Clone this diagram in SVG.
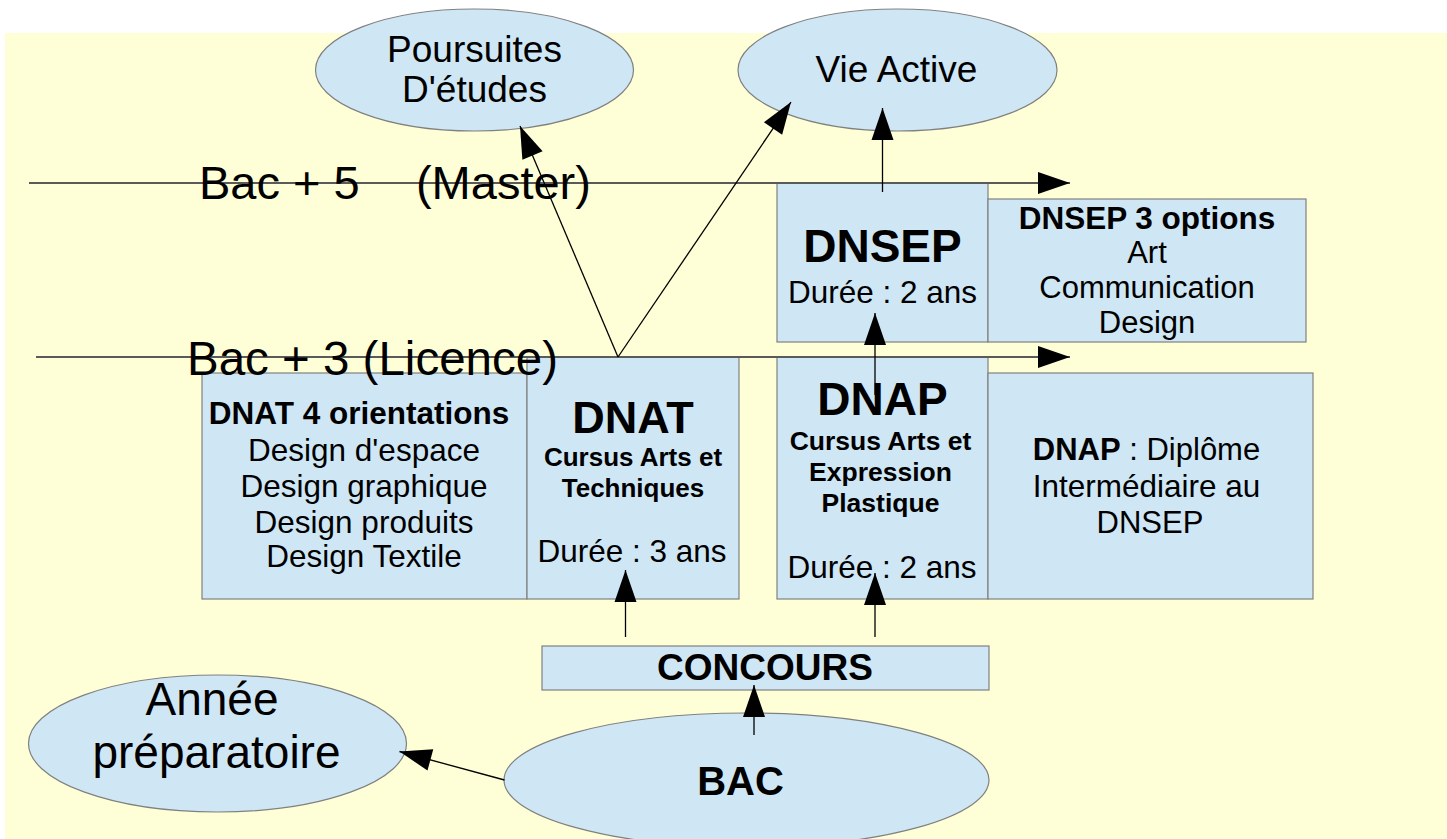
<svg xmlns="http://www.w3.org/2000/svg" width="1447" height="839" viewBox="0 0 1447 839">
<style>
  text { font-family: "Liberation Sans", Arial, sans-serif; fill: #000; }
  .shape { fill: #cfe7f5; stroke: #808080; stroke-width: 1.2; }
  .c { text-anchor: middle; }
  .b { font-weight: bold; }
  .conn { stroke: #000; stroke-width: 1.3; fill: none; marker-end: url(#arr); }
  .level { stroke: #5a5a5a; stroke-width: 2; fill: none; marker-end: url(#arr); }
</style>
<defs>
  <marker id="arr" markerUnits="userSpaceOnUse" markerWidth="32" markerHeight="22" refX="32" refY="11" orient="auto" overflow="visible">
    <path d="M0,0 L32,11 L0,22 z" fill="#000"/>
  </marker>
</defs>
<rect x="0" y="0" width="1447" height="839" fill="#ffffff"/>
<rect x="5" y="33" width="1442" height="806" fill="#ffffd7"/>

<g id="poursuites">
  <ellipse class="shape" cx="474.5" cy="70" rx="159" ry="61"/>
  <text class="c" x="474.5" y="62" font-size="37">Poursuites</text>
  <text class="c" x="474.5" y="102" font-size="37">D'études</text>
</g>
<g id="vie-active">
  <ellipse class="shape" cx="897.5" cy="70" rx="159.5" ry="61"/>
  <text class="c" x="896.5" y="82" font-size="37">Vie Active</text>
</g>
<g id="dnsep">
  <rect class="shape" x="777" y="183" width="211" height="159"/>
  <text class="c b" x="882.5" y="262" font-size="46">DNSEP</text>
  <text class="c" x="882.5" y="303" font-size="31.5">Durée : 2 ans</text>
</g>
<g id="dnsep-options">
  <rect class="shape" x="988" y="199" width="318" height="143"/>
  <text class="c b" x="1147" y="229" font-size="31.5">DNSEP 3 options</text>
  <text class="c" x="1147" y="263" font-size="31">Art</text>
  <text class="c" x="1147" y="298" font-size="31">Communication</text>
  <text class="c" x="1147" y="333" font-size="31">Design</text>
</g>
<g id="dnat-orientations">
  <rect class="shape" x="202" y="373" width="325" height="226"/>
  <text class="c b" x="359" y="424" font-size="31.5">DNAT 4 orientations</text>
  <text class="c" x="364" y="461" font-size="31.5">Design d'espace</text>
  <text class="c" x="364" y="497" font-size="31.5">Design graphique</text>
  <text class="c" x="364" y="533" font-size="31.5">Design produits</text>
  <text class="c" x="364" y="567" font-size="31.5">Design Textile</text>
</g>
<g id="dnat">
  <rect class="shape" x="527" y="357" width="212" height="242"/>
  <text class="c b" x="633" y="433" font-size="45">DNAT</text>
  <text class="c b" x="633" y="466" font-size="26">Cursus Arts et</text>
  <text class="c b" x="633" y="497" font-size="26">Techniques</text>
  <text class="c" x="632" y="562" font-size="31.5">Durée : 3 ans</text>
</g>
<g id="dnap">
  <rect class="shape" x="777" y="357" width="211" height="242"/>
  <text class="c b" x="882.5" y="415" font-size="46">DNAP</text>
  <text class="c b" x="880.5" y="450" font-size="26.5">Cursus Arts et</text>
  <text class="c b" x="880.5" y="481" font-size="26.5">Expression</text>
  <text class="c b" x="880.5" y="512" font-size="26.5">Plastique</text>
  <text class="c" x="882" y="578" font-size="31.5">Durée : 2 ans</text>
</g>
<g id="dnap-description">
  <rect class="shape" x="988" y="373" width="325" height="226"/>
  <text class="c" x="1146.5" y="460" font-size="31"><tspan font-weight="bold">DNAP</tspan> : Diplôme</text>
  <text class="c" x="1146.5" y="497" font-size="31.5">Intermédiaire au</text>
  <text class="c" x="1150" y="533" font-size="31">DNSEP</text>
</g>
<g id="concours">
  <rect class="shape" x="542" y="646" width="447" height="44"/>
  <text class="c b" x="765" y="680" font-size="37">CONCOURS</text>
</g>
<g id="bac">
  <ellipse class="shape" cx="746.5" cy="780" rx="242.5" ry="67"/>
  <text class="c b" x="740.5" y="795" font-size="40">BAC</text>
</g>
<g id="annee-preparatoire">
  <ellipse class="shape" cx="217.5" cy="743.5" rx="189" ry="68.5"/>
  <text class="c" x="212" y="715" font-size="46">Année</text>
  <text class="c" x="216.5" y="768" font-size="46">préparatoire</text>
</g>

<g id="connectors">
  <line class="level" x1="29" y1="183" x2="1070" y2="183"/>
  <line class="level" x1="36" y1="357" x2="1070" y2="357"/>
  <line class="conn" x1="618" y1="357" x2="520" y2="126"/>
  <line class="conn" x1="618" y1="357" x2="791" y2="102"/>
  <line class="conn" x1="882.5" y1="192" x2="882.5" y2="108"/>
  <line class="conn" x1="875" y1="395" x2="875" y2="313"/>
  <line class="conn" x1="625.5" y1="637" x2="625.5" y2="570"/>
  <line class="conn" x1="875" y1="637" x2="875" y2="573"/>
  <line class="conn" x1="754" y1="735" x2="754" y2="685"/>
  <line class="conn" x1="504.5" y1="780" x2="399.5" y2="751.5"/>
</g>

<g id="levels">
  <text x="199" y="199" font-size="47" xml:space="preserve">Bac + 5    <tspan dx="4">(Master)</tspan></text>
  <text x="187" y="375" font-size="47.5">Bac + 3 (Licence)</text>
</g>
</svg>
